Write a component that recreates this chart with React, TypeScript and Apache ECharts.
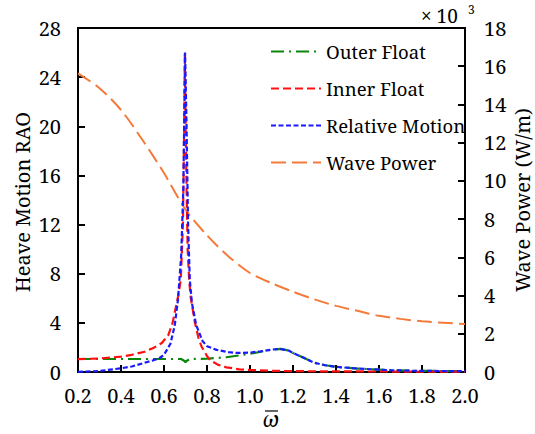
import React, { useEffect, useRef } from "react";
import * as echarts from "echarts";

const xTicks = [0.2, 2.0];
const wpOmega = [0.2, 0.3, 0.4, 0.5, 0.6, 0.7, 0.8, 0.9, 1.0, 1.1, 1.2, 1.3, 1.4, 1.5, 1.6, 1.7, 1.8, 1.9, 2.0];
const wavePower = [15.63, 14.85, 13.71, 12.14, 10.41, 8.5, 7.15, 6.05, 5.18, 4.65, 4.2, 3.8, 3.46, 3.2, 2.94, 2.78, 2.65, 2.58, 2.51];

const outerOmega = [0.2, 0.4, 0.6, 0.68, 0.695, 0.7, 0.705, 0.72, 0.8, 0.89, 0.95, 1.0, 1.05, 1.1, 1.14, 1.18, 1.2, 1.25, 1.3, 1.35, 1.4, 1.5, 1.57, 1.65, 1.76, 1.9, 2.0];
const outerFloat = [1.06, 1.06, 1.06, 1.06, 0.9, 0.8, 0.9, 1.06, 1.08, 1.2, 1.35, 1.48, 1.65, 1.82, 1.88, 1.75, 1.55, 1.15, 0.75, 0.55, 0.42, 0.28, 0.22, 0.15, 0.1, 0.08, 0.07];

const innerOmega = [0.2, 0.3, 0.4, 0.45, 0.51, 0.55, 0.59, 0.62, 0.64, 0.665, 0.678, 0.688, 0.694, 0.697, 0.702, 0.71, 0.717, 0.724, 0.744, 0.76, 0.775, 0.8, 0.814, 0.85, 0.89, 0.95, 1.01, 1.1, 1.2, 1.4, 1.6, 2.0];
const innerFloat = [1.05, 1.1, 1.25, 1.4, 1.65, 1.95, 2.36, 3.0, 4.0, 6.1, 7.5, 12, 20, 26, 18, 10, 7.5, 6.1, 4.0, 2.8, 2.06, 1.3, 0.98, 0.6, 0.38, 0.22, 0.16, 0.1, 0.07, 0.05, 0.04, 0.03];

const relOmega = [0.2, 0.3, 0.4, 0.45, 0.5, 0.55, 0.58, 0.6, 0.63, 0.65, 0.665, 0.68, 0.69, 0.698, 0.705, 0.712, 0.72, 0.73, 0.75, 0.78, 0.8, 0.845, 0.9, 0.94, 1.0, 1.05, 1.1, 1.14, 1.18, 1.2, 1.25, 1.3, 1.35, 1.4, 1.5, 1.57, 1.65, 1.76, 1.9, 2.0];
const relMotion = [0.02, 0.08, 0.3, 0.45, 0.7, 0.95, 1.14, 1.4, 2.3, 3.8, 5.9, 9.5, 15, 26, 20, 12, 7.5, 5.6, 3.8, 2.5, 2.1, 1.8, 1.62, 1.55, 1.58, 1.68, 1.82, 1.88, 1.75, 1.55, 1.15, 0.75, 0.55, 0.42, 0.28, 0.22, 0.15, 0.1, 0.08, 0.07];

const FONT = "Noto Serif";

const pairs = (xs: number[], ys: number[]) => xs.map((x, i) => [x, ys[i]]);

export default function App() {
  const ref = useRef<HTMLDivElement>(null);
  useEffect(() => {
    if (!ref.current) return;
    const chart = echarts.init(ref.current, undefined, { renderer: "svg" });
    const axisCommon = {
      axisLine: { show: true, lineStyle: { color: "#000", width: 2 } },
      axisTick: { show: true, inside: true, length: 7, lineStyle: { color: "#000", width: 2 } },
      splitLine: { show: false },
      axisLabel: { color: "#000", fontFamily: FONT, fontSize: 20 },
    };
    chart.setOption({
      animation: false,
      backgroundColor: "#fff",
      grid: { left: 78, right: 70, top: 28, bottom: 62, show: true, borderColor: "#000", borderWidth: 2 },
      xAxis: {
        type: "value",
        min: xTicks[0],
        max: xTicks[1],
        interval: 0.2,
        ...axisCommon,
        axisLabel: { ...axisCommon.axisLabel, margin: 13, formatter: (v: number) => v.toFixed(1) },
      },
      yAxis: [
        {
          type: "value",
          min: 0,
          max: 28,
          interval: 4,
          position: "left",
          ...axisCommon,
          axisLabel: { ...axisCommon.axisLabel, margin: 17 },
        },
        {
          type: "value",
          min: 0,
          max: 18,
          interval: 2,
          position: "right",
          ...axisCommon,
          axisLabel: { ...axisCommon.axisLabel, margin: 19 },
        },
      ],
      legend: {
        orient: "vertical",
        left: 265,
        top: 37,
        itemWidth: 50,
        itemHeight: 14,
        itemGap: 18,
        itemStyle: { color: "transparent", borderColor: "transparent", borderWidth: 0, opacity: 0 },
        textStyle: { fontFamily: FONT, fontSize: 18.5, color: "#000" },
        data: ["Outer Float", "Inner Float", "Relative Motion", "Wave Power"],
      },
      graphic: [
        {
          type: "text",
          x: 22,
          y: 202,
          rotation: Math.PI / 2,
          style: { text: "Heave Motion RAO", fontFamily: FONT, fontSize: 20, fill: "#000", align: "center", verticalAlign: "middle" },
        },
        {
          type: "text",
          x: 522,
          y: 200,
          rotation: Math.PI / 2,
          style: { text: "Wave Power (W/m)", fontFamily: FONT, fontSize: 20, fill: "#000", align: "center", verticalAlign: "middle" },
        },
        {
          type: "text",
          x: 271,
          y: 419,
          style: { text: "ω", fontFamily: FONT, fontStyle: "italic", fontSize: 21, fill: "#000", align: "center", verticalAlign: "middle" },
        },
        {
          type: "line",
          shape: { x1: 265, y1: 411, x2: 278, y2: 411 },
          style: { stroke: "#000", lineWidth: 1.2 },
        },
        {
          type: "text",
          x: 421,
          y: 16,
          style: { text: "× 10", fontFamily: FONT, fontSize: 19, fill: "#000", align: "left", verticalAlign: "middle" },
        },
        {
          type: "text",
          x: 468,
          y: 9,
          style: { text: "3", fontFamily: FONT, fontSize: 12, fill: "#000", align: "left", verticalAlign: "middle" },
        },
      ],
      series: [
        {
          name: "Wave Power",
          type: "line",
          yAxisIndex: 1,
          symbol: "none",
          smooth: 0.3,
          data: pairs(wpOmega, wavePower),
          lineStyle: { color: "#f47a3a", width: 2, type: [15, 6] },
          itemStyle: { color: "#f47a3a" },
          z: 2,
        },
        {
          name: "Outer Float",
          type: "line",
          symbol: "none",
          data: pairs(outerOmega, outerFloat),
          lineStyle: { color: "#0a870a", width: 2.2, type: [13, 5, 2, 5] },
          itemStyle: { color: "#0a870a" },
          z: 3,
        },
        {
          name: "Inner Float",
          type: "line",
          symbol: "none",
          data: pairs(innerOmega, innerFloat),
          lineStyle: { color: "#ff1010", width: 2.2, type: [8, 4] },
          itemStyle: { color: "#ff1010" },
          z: 4,
        },
        {
          name: "Relative Motion",
          type: "line",
          symbol: "none",
          data: pairs(relOmega, relMotion),
          lineStyle: { color: "#1a1aff", width: 2.2, type: [5, 2.5] },
          itemStyle: { color: "#1a1aff" },
          z: 5,
        },
      ],
    });
    return () => chart.dispose();
  }, []);
  return <div ref={ref} style={{ width: 535, height: 434, position: "absolute", left: 0, top: 0 }} />;
}
